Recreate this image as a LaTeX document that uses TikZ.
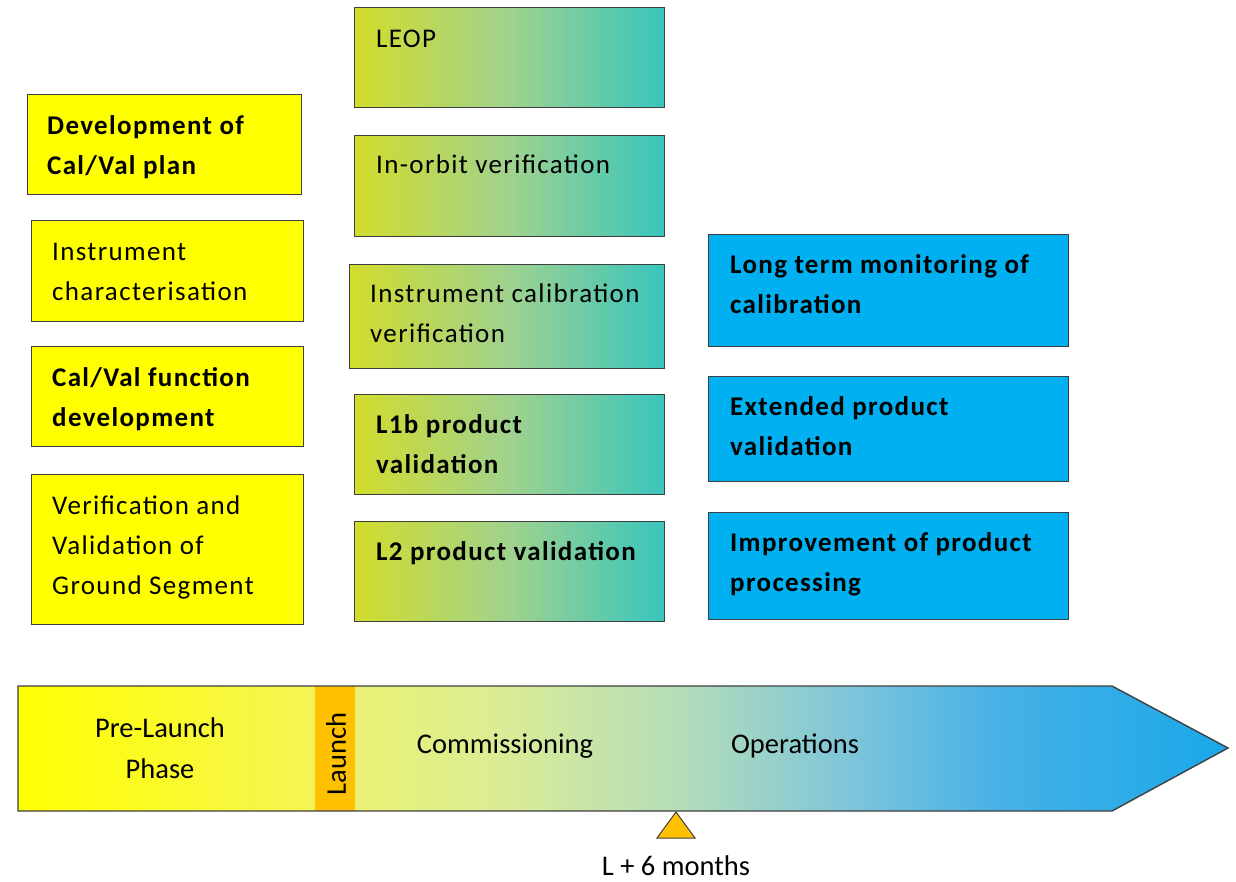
\documentclass[tikz,border=0pt]{standalone}
\usepackage{fontspec}
\setmainfont{Carlito}
\newfontfamily\boxfont[LetterSpace=5]{Carlito}
\definecolor{boxline}{HTML}{404040}
\definecolor{calyellow}{HTML}{FFFF00}
\definecolor{calblue}{HTML}{00B0F0}
\definecolor{grL}{HTML}{D2DC2C}
\definecolor{grM}{HTML}{A0D28E}
\definecolor{grR}{HTML}{38C5BE}
\definecolor{launchor}{HTML}{FFC000}
\definecolor{tlA}{HTML}{FFFF00}
\definecolor{tlB}{HTML}{F4F455}
\definecolor{tlC}{HTML}{EAF274}
\definecolor{tlD}{HTML}{DAEC96}
\definecolor{tlE}{HTML}{B6DDB8}
\definecolor{tlF}{HTML}{7EC5DA}
\definecolor{tlG}{HTML}{46B1E6}
\definecolor{tlH}{HTML}{1AA8E8}
% colour ramp of the mission timeline (25bp..75bp spans the arrow)
\pgfdeclarehorizontalshading{timeline}{100bp}{color(0bp)=(tlA); color(25bp)=(tlA);
  color(37.27bp)=(tlB); color(38.93bp)=(tlC); color(44.92bp)=(tlD);
  color(52.19bp)=(tlE); color(59.38bp)=(tlF); color(65.58bp)=(tlG);
  color(75bp)=(tlH); color(100bp)=(tlH)}
\newcommand\firstline{\rule{0pt}{20pt}}
\begin{document}
\begin{tikzpicture}[x=1pt,y=-1pt,
  boxbase/.style={draw=boxline, line width=1.4pt, inner sep=0pt, anchor=north west},
  ybox/.style={boxbase, fill=calyellow},
  gbox/.style={boxbase, left color=grL, right color=grR, middle color=grM},
  bbox/.style={boxbase, fill=calblue},
  lbl/.style={anchor=north west, inner sep=0pt, align=left,
    font=\boxfont\fontsize{27}{40}\selectfont},
  blbl/.style={lbl, font=\boxfont\fontsize{27}{40}\selectfont\bfseries},
  tltext/.style={inner sep=0pt, align=center, font=\fontsize{28.5}{41}\selectfont},
]
\useasboundingbox (0,0) rectangle (1236,881);

% pre-launch activities
\node[ybox, minimum width=274pt, minimum height=100pt] (dev) at (27,94) {};
\node[blbl] (devt) at ([shift={(20,20)}]dev.north west) {\firstline Development of\\Cal/Val plan};
\node[ybox, minimum width=272pt, minimum height=101pt] (ich) at (31,220) {};
\node[lbl] (icht) at ([shift={(21,20)}]ich.north west) {\firstline Instrument\\characterisation};
\node[ybox, minimum width=272pt, minimum height=100pt] (cvf) at (31,346) {};
\node[blbl] (cvft) at ([shift={(21,20)}]cvf.north west) {\firstline Cal/Val function\\development};
\node[ybox, minimum width=272pt, minimum height=150pt] (vvg) at (31,474) {};
\node[lbl] (vvgt) at ([shift={(21,20)}]vvg.north west) {\firstline Verification and\\Validation of\\Ground Segment};

% commissioning activities
\node[gbox, minimum width=310pt, minimum height=100pt] (leop) at (354,7) {};
\node[lbl] (leopt) at ([shift={(22,20)}]leop.north west) {\firstline LEOP};
\node[gbox, minimum width=310pt, minimum height=101pt] (iov) at (354,135) {};
\node[lbl] (iovt) at ([shift={(22,18)}]iov.north west) {\firstline In-orbit verification};
\node[gbox, minimum width=315pt, minimum height=104pt] (icv) at (349,264) {};
\node[lbl] (icvt) at ([shift={(21,18)}]icv.north west) {\firstline Instrument calibration\\verification};
\node[gbox, minimum width=310pt, minimum height=100pt] (l1b) at (354,394) {};
\node[blbl] (l1bt) at ([shift={(22,19)}]l1b.north west) {\firstline L1b product\\validation};
\node[gbox, minimum width=310pt, minimum height=100pt] (l2) at (354,521) {};
\node[blbl] (l2t) at ([shift={(22,19)}]l2.north west) {\firstline L2 product validation};

% operations activities
\node[bbox, minimum width=360pt, minimum height=112pt] (ltm) at (708,234) {};
\node[blbl] (ltmt) at ([shift={(22,19)}]ltm.north west) {\firstline Long term monitoring of\\calibration};
\node[bbox, minimum width=360pt, minimum height=105pt] (epv) at (708,376) {};
\node[blbl] (epvt) at ([shift={(22,19)}]epv.north west) {\firstline Extended product\\validation};
\node[bbox, minimum width=360pt, minimum height=107pt] (ipp) at (708,512) {};
\node[blbl] (ippt) at ([shift={(22,19)}]ipp.north west) {\firstline Improvement of product\\processing};

% mission timeline arrow
\coordinate (a1) at (18,686);
\coordinate (a2) at (1112,686);
\coordinate (a3) at (1228,748);
\coordinate (a4) at (1112,811);
\coordinate (a5) at (18,811);
\shade[shading=timeline] (a1) -- (a2) -- (a3) -- (a4) -- (a5) -- cycle;
\fill[launchor] (315,686) rectangle (355,811);
\draw[boxline, line width=1.4pt, line join=miter] (a1) -- (a2) -- (a3) -- (a4) -- (a5) -- cycle;

\node[tltext] (pre) at (160,748) {Pre-Launch\\Phase};
\node[tltext, rotate=90] (launch) at (336,754) {Launch};
\node[tltext, anchor=base] (comm) at (505,753) {Commissioning};
\node[tltext, anchor=base] (ops) at (795,753) {Operations};

% six-month milestone
\draw[boxline, line width=1pt, fill=launchor, line join=miter] (676,812) -- (695,838) -- (657,838) -- cycle;
\node[tltext, anchor=base] (mile) at (676,875) {L + 6 months};
\end{tikzpicture}
\end{document}
